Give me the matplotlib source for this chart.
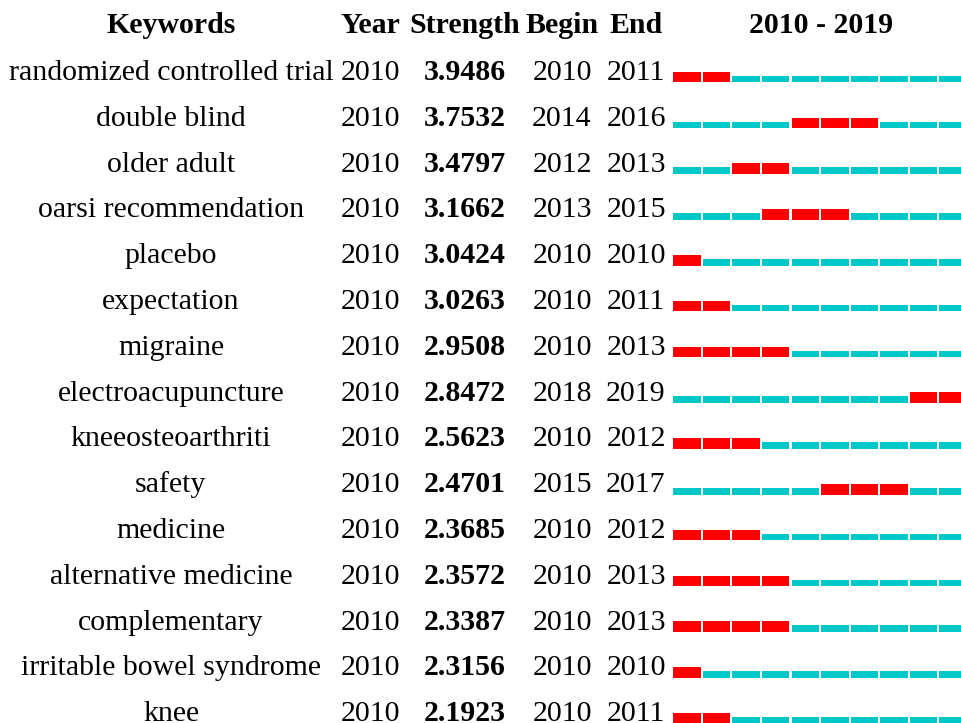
import matplotlib.pyplot as plt
from matplotlib.patches import Rectangle

plt.rcParams['font.family'] = ['Liberation Serif', 'DejaVu Serif']

keywords = ['randomized controlled trial', 'double blind', 'older adult',
            'oarsi recommendation', 'placebo', 'expectation', 'migraine',
            'electroacupuncture', 'kneeosteoarthriti', 'safety', 'medicine',
            'alternative medicine', 'complementary', 'irritable bowel syndrome',
            'knee']
year = [2010] * 15
strength = [3.9486, 3.7532, 3.4797, 3.1662, 3.0424, 3.0263, 2.9508, 2.8472,
            2.5623, 2.4701, 2.3685, 2.3572, 2.3387, 2.3156, 2.1923]
begin = [2010, 2014, 2012, 2013, 2010, 2010, 2010, 2018, 2010, 2015,
         2010, 2010, 2010, 2010, 2010]
end = [2011, 2016, 2013, 2015, 2010, 2011, 2013, 2019, 2012, 2017,
       2012, 2013, 2013, 2010, 2011]
first_year, last_year = 2010, 2019

RED = '#ff0000'
CYAN = '#00c8c8'

fig = plt.figure(figsize=(9.61, 7.23), dpi=100)
ax = fig.add_axes([0, 0, 1, 1])
ax.set_xlim(0, 961)
ax.set_ylim(723, 0)
ax.axis('off')

# column centres (pixel layout)
col_kw, col_year, col_str, col_beg, col_end = 171, 370, 465, 562, 636
bar_x0, cell_w, gap = 673.3, 29.55, 2.0
row0, row_h = 80, 45.8
fs = 21.5

hy = 33
for x, t in [(col_kw, 'Keywords'), (col_year, 'Year'), (col_str, 'Strength'),
             (col_beg, 'Begin'), (col_end, 'End'),
             (bar_x0 + cell_w * 5, f'{first_year} - {last_year}')]:
    ax.text(x, hy, t, ha='center', va='baseline', fontsize=fs, fontweight='bold')

for i, kw in enumerate(keywords):
    by = row0 + i * row_h
    ax.text(col_kw, by, kw, ha='center', va='baseline', fontsize=fs)
    ax.text(col_year, by, str(year[i]), ha='center', va='baseline', fontsize=fs)
    ax.text(col_str, by, f'{strength[i]:.4f}', ha='center', va='baseline',
            fontsize=fs, fontweight='bold')
    ax.text(col_beg, by, str(begin[i]), ha='center', va='baseline', fontsize=fs)
    ax.text(col_end, by, str(end[i]), ha='center', va='baseline', fontsize=fs)
    bottom = by + 2.3
    for y in range(first_year, last_year + 1):
        burst = begin[i] <= y <= end[i]
        h = 10.5 if burst else 6.5
        ax.add_patch(Rectangle((bar_x0 + (y - first_year) * cell_w, bottom - h),
                               cell_w - gap, h, facecolor=RED if burst else CYAN,
                               edgecolor='none'))

fig.savefig('out.png', dpi=100)
